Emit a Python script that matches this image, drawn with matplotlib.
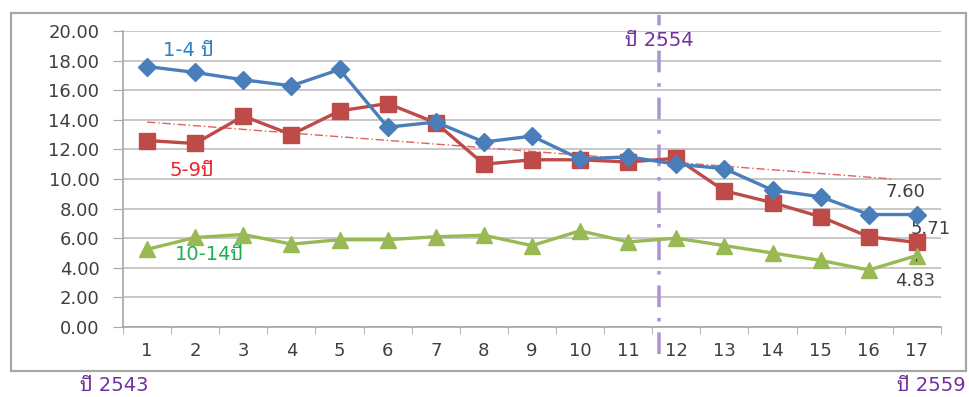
import numpy as np
import matplotlib.pyplot as plt
from matplotlib.patches import Rectangle
from matplotlib.transforms import blended_transform_factory

plt.rcParams['font.family'] = ['DejaVu Sans', 'Noto Sans Thai Looped', 'Sarabun', 'Noto Sans Thai']

# อัตราตามกลุ่มอายุ ปีที่ 1-17 (ปี 2543 - 2559)
years = np.arange(1, 18)
age_1_4 = [17.6, 17.2, 16.7, 16.3, 17.4, 13.5, 13.85, 12.5, 12.9, 11.35,
           11.5, 11.0, 10.7, 9.25, 8.8, 7.6, 7.60]
age_5_9 = [12.6, 12.4, 14.25, 13.0, 14.6, 15.1, 13.8, 11.0, 11.3, 11.3,
           11.15, 11.4, 9.2, 8.4, 7.45, 6.1, 5.71]
age_10_14 = [5.25, 6.05, 6.25, 5.6, 5.9, 5.9, 6.1, 6.2, 5.5, 6.5,
             5.75, 6.0, 5.5, 5.0, 4.5, 3.85, 4.83]

# เส้นแนวโน้ม (จุดเริ่ม-จุดสิ้นสุด)
trend_x = [1, 16.5]
trend_y = [13.85, 10.0]

# ตำแหน่งปี 2554
mark_x = 11.64

fig = plt.figure(figsize=(9.69, 3.97), dpi=100)
ax = fig.add_axes([0.127, 0.1763, 0.844, 0.7456])

# กรอบรอบกราฟ
fig.patches.append(Rectangle((0.0114, 0.0655), 0.9855, 0.9018, transform=fig.transFigure,
                             fill=False, edgecolor='#A6A6A6', linewidth=1.6))

ax.plot(trend_x, trend_y, color='#E06060', lw=1.0, dashes=[6, 2, 1, 2], zorder=2)

ax.plot(years, age_1_4, color='#4A7EBB', lw=2.4, marker='D', markersize=9, zorder=4)
ax.plot(years, age_5_9, color='#BE4B48', lw=2.4, marker='s', markersize=12, zorder=3)
ax.plot(years, age_10_14, color='#98B954', lw=2.4, marker='^', markersize=11, zorder=3)

# เส้นแบ่งปี 2554
trans = blended_transform_factory(ax.transData, ax.transAxes)
ax.plot([mark_x, mark_x], [-0.09, 1.055], transform=trans, clip_on=False,
        color='#AB98D2', lw=2.6, dashes=[6, 3, 1, 3], zorder=1)
ax.text(mark_x, 19.35, 'ปี 2554', color='#7030A0', fontsize=14, ha='center', va='center')

# ป้ายกลุ่มอายุ
ax.text(1.85, 18.7, '1-4 ปี', color='#2E7FC8', fontsize=14, ha='center', va='center')
ax.text(1.93, 10.55, '5-9ปี', color='#E8262A', fontsize=14, ha='center', va='center')
ax.text(2.3, 4.93, '10-14ปี', color='#1DAF52', fontsize=14, ha='center', va='center')

# ค่าปีสุดท้าย
ax.annotate(f'{age_1_4[-1]:.2f}', xy=(17, age_1_4[-1]), xytext=(16.77, 9.12),
            ha='center', va='center', fontsize=13, color='#404040',
            arrowprops=dict(arrowstyle='-', color='#404040', lw=1, shrinkA=6, shrinkB=3))
ax.text(17.28, 6.62, f'{age_5_9[-1]:.2f}', ha='center', va='center', fontsize=13, color='#404040')
ax.annotate(f'{age_10_14[-1]:.2f}', xy=(17, age_10_14[-1]), xytext=(16.97, 3.1),
            ha='center', va='center', fontsize=13, color='#404040',
            arrowprops=dict(arrowstyle='-', color='#404040', lw=1, shrinkA=6, shrinkB=3))

# ปีเริ่มต้นและปีสุดท้าย
fig.text(0.083, 0.028, 'ปี 2543', color='#7030A0', fontsize=14, ha='left', va='center')
fig.text(0.997, 0.028, 'ปี 2559', color='#7030A0', fontsize=14, ha='right', va='center')

ax.set_xlim(0.5, 17.5)
ax.set_ylim(0, 20)
ax.set_xticks(years)
ax.set_xticks(np.arange(0.5, 18, 1), minor=True)
ax.set_yticks(np.arange(0, 21, 2))
ax.set_yticklabels([f'{v:.2f}' for v in np.arange(0, 21, 2)])
ax.tick_params(axis='x', which='major', length=0, pad=11, labelsize=13, labelcolor='#404040')
ax.tick_params(axis='x', which='minor', length=5, color='#A6A6A6', direction='out')
ax.tick_params(axis='y', length=7, color='#A6A6A6', pad=10, labelsize=13, labelcolor='#404040')

ax.grid(axis='y', color='#BFBFBF', lw=1.2)
ax.set_axisbelow(True)
for side in ['top', 'right']:
    ax.spines[side].set_visible(False)
for side in ['left', 'bottom']:
    ax.spines[side].set_color('#A6A6A6')
    ax.spines[side].set_linewidth(1.2)

fig.savefig('out.png', dpi=100)
